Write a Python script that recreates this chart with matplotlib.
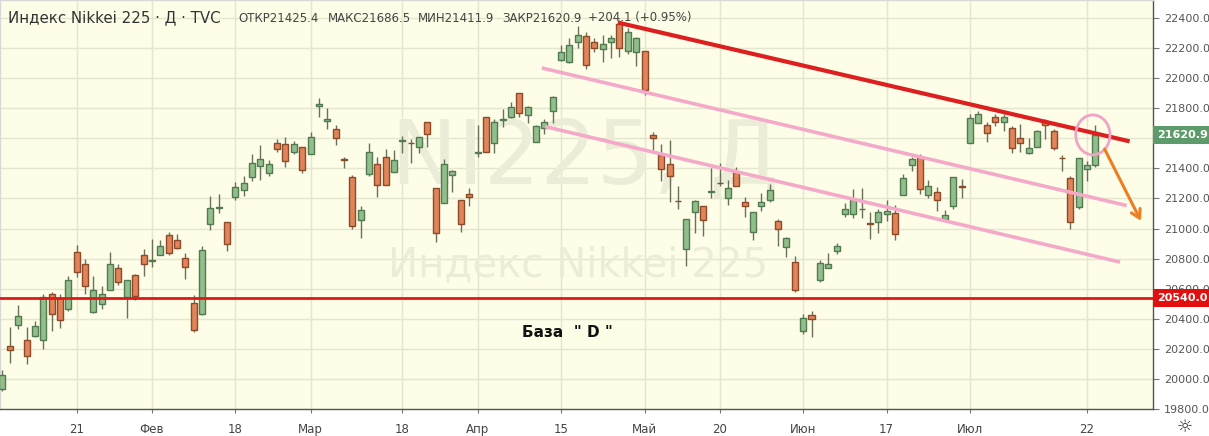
import matplotlib
matplotlib.use("Agg")
import matplotlib.pyplot as plt
import matplotlib.transforms as mtransforms
from matplotlib.patches import Ellipse
import numpy as np

# ---------------- data (daily candles, Nikkei 225) ----------------
opens = [19933, 20216, 20360, 20260, 20285, 20260, 20567, 20540, 20467, 20847,
         20767, 20447, 20500, 20593, 20740, 20545, 20693, 20827, 20785, 20827,
         20960, 20927, 20807, 20507, 20433, 21027, 21138, 21044, 21211, 21256,
         21344, 21418, 21371, 21567, 21560, 21507, 21540, 21493, 21813, 21713,
         21660, 21460, 21340, 21060, 21360, 21427, 21473, 21373, 21582, 21569,
         21544, 21711, 21267, 21173, 21353, 21189, 21227, 21502, 21744, 21567,
         21725, 21744, 21904, 21756, 21578, 21667, 21784, 22124, 22109, 22238,
         22280, 22242, 22191, 22242, 22358, 22182, 22171, 22182, 21624, 21487,
         21431, 21184, 20864, 21109, 21149, 21245, 21304, 21204, 21376, 21176,
         20980, 21147, 21187, 21049, 20880, 20776, 20320, 20424, 20658, 20738,
         20850, 21096, 21100, 21127, 21035, 21044, 21096, 21104, 21220, 21420,
         21478, 21220, 21240, 21064, 21153, 21280, 21567, 21700, 21687, 21740,
         21707, 21669, 21600, 21500, 21544, 21711, 21647, 21471, 21333, 21144,
         21393, 21425.4]
highs = [20060, 20345, 20489, 20345, 20384, 20567, 20578, 20567, 20682, 20889,
         20800, 20682, 20616, 20844, 20762, 20660, 20700, 20867, 20929, 20922,
         20978, 20967, 20840, 20556, 20882, 21216, 21233, 21044, 21307, 21349,
         21496, 21556, 21456, 21593, 21611, 21582, 21540, 21640, 21871, 21800,
         21689, 21478, 21358, 21149, 21571, 21478, 21529, 21522, 21616, 21593,
         21611, 21711, 21273, 21460, 21389, 21189, 21267, 21689, 21744, 21729,
         21793, 21840, 21904, 21816, 21690, 21727, 21882, 22220, 22264, 22347,
         22309, 22264, 22287, 22287, 22387, 22331, 22276, 22182, 21642, 21560,
         21591, 21280, 21064, 21191, 21149, 21404, 21436, 21324, 21409, 21209,
         21109, 21236, 21298, 21064, 20942, 20820, 20431, 20453, 20791, 20838,
         20905, 21167, 21260, 21267, 21111, 21133, 21189, 21156, 21362, 21478,
         21496, 21322, 21278, 21122, 21340, 21327, 21762, 21784, 21709, 21762,
         21762, 21682, 21693, 21600, 21656, 21727, 21660, 21489, 21349, 21471,
         21449, 21686.5]
lows = [19920, 20105, 20333, 20100, 20278, 20196, 20318, 20338, 20451, 20678,
        20562, 20438, 20462, 20593, 20622, 20405, 20527, 20687, 20745, 20827,
        20827, 20862, 20662, 20313, 20422, 20989, 21104, 20851, 21189, 21216,
        21318, 21322, 21349, 21511, 21411, 21496, 21371, 21493, 21744, 21662,
        21556, 21404, 20996, 20940, 21349, 21207, 21287, 21373, 21504, 21433,
        21504, 21544, 20911, 21173, 21244, 20978, 21151, 21478, 21507, 21500,
        21673, 21738, 21744, 21704, 21578, 21629, 21704, 22116, 22102, 22198,
        22064, 22171, 22109, 22131, 22138, 22164, 22082, 21887, 21520, 21316,
        21176, 21131, 20749, 20971, 20949, 21204, 21282, 21160, 21280, 21076,
        20924, 21116, 21176, 20882, 20809, 20576, 20298, 20280, 20642, 20738,
        20830, 21078, 21073, 21073, 20933, 20971, 21049, 20927, 21220, 21384,
        21233, 21200, 21118, 21060, 21127, 21200, 21567, 21700, 21573, 21682,
        21651, 21504, 21511, 21493, 21540, 21596, 21522, 21384, 21000, 21127,
        21318, 21411.9]
closes = [20027, 20193, 20418, 20151, 20353, 20545, 20433, 20393, 20660, 20711,
          20620, 20589, 20567, 20767, 20644, 20660, 20551, 20767, 20791, 20882,
          20838, 20871, 20744, 20327, 20860, 21140, 21142, 20900, 21278, 21300,
          21433, 21464, 21427, 21527, 21447, 21560, 21387, 21607, 21829, 21727,
          21600, 21456, 21018, 21122, 21507, 21287, 21287, 21456, 21586, 21566,
          21611, 21627, 20973, 21427, 21380, 21033, 21207, 21506, 21507, 21711,
          21727, 21811, 21767, 21807, 21684, 21711, 21873, 22171, 22224, 22287,
          22091, 22204, 22227, 22264, 22204, 22309, 22264, 21924, 21604, 21398,
          21347, 21182, 21064, 21182, 21058, 21249, 21300, 21269, 21280, 21147,
          21109, 21176, 21258, 20998, 20936, 20593, 20404, 20398, 20769, 20764,
          20884, 21133, 21193, 21131, 21031, 21111, 21118, 20967, 21333, 21460,
          21260, 21284, 21193, 21087, 21340, 21276, 21733, 21762, 21638, 21707,
          21744, 21533, 21567, 21533, 21647, 21687, 21533, 21467, 21044, 21467,
          21420, 21620.9]

# x-axis ticks (bar index -> label)
tick_bars = [9, 18, 28, 37, 48, 57, 67, 77, 86, 96, 106, 116, 130]
tick_labels = ["21", "Фев", "18", "Мар", "18", "Апр", "15", "Май", "20", "Июн", "17", "Июл", "22"]
price_ticks = list(range(19800, 22401, 200))

support_level = 20540.0
last_close = closes[-1]

# drawn annotations (bar index, price)
red_trend = [(73.8, 22370), (135.1, 21580)]
pink_upper = [(64.7, 22068), (134.75, 21153)]
pink_lower = [(65.1, 21678), (133.95, 20777)]
circle_center = (130.7, 21623)
arrow_from = (131.95, 21545)
arrow_to = (136.6, 21035)

# ---------------- styling ----------------
BG = "#fdfde8"
GRID = "#e4e6cd"
UP_FACE, UP_EDGE = "#92be8c", "#527a50"
DN_FACE, DN_EDGE = "#e1845a", "#8c4a2a"
WICK = "#6b705a"

W, H = 1209, 436
fig = plt.figure(figsize=(W / 100, H / 100), dpi=100, facecolor="white")
ax = fig.add_axes([0, 27 / H, 1153 / W, 409 / H])
ax.set_facecolor(BG)

x = np.arange(len(opens))
o = np.array(opens, float); c = np.array(closes, float)
hi = np.array(highs, float); lo = np.array(lows, float)
up = c >= o

ax.vlines(x, lo, hi, color=WICK, linewidth=1, zorder=3)
ax.bar(x[up], (c - o)[up], bottom=o[up], width=0.72, color=UP_FACE,
       edgecolor=UP_EDGE, linewidth=1, zorder=4)
ax.bar(x[~up], (c - o)[~up], bottom=o[~up], width=0.72, color=DN_FACE,
       edgecolor=DN_EDGE, linewidth=1, zorder=4)

ax.set_xlim(-0.19, 137.9)
ax.set_ylim(19800, 22520)

# grid / ticks
ax.set_yticks(price_ticks)
# the 21600 label is hidden behind the last-price tag in the reference
ax.set_yticklabels(["" if v == 21600 else f"{v:.1f}" for v in price_ticks])
ax.set_xticks(tick_bars)
ax.set_xticklabels(tick_labels)
ax.grid(True, color=GRID, linewidth=1, zorder=0)
ax.set_axisbelow(True)

ax.yaxis.tick_right()
ax.tick_params(axis="y", direction="out", length=4, width=0.8, color="#777",
               labelsize=8, labelcolor="#555", pad=4)
ax.tick_params(axis="x", direction="out", length=3, width=0.8, color="#777",
               labelsize=8.5, labelcolor="#444", pad=7)
for s in ["top", "left"]:
    ax.spines[s].set_color("#d8d8d8")
    ax.spines[s].set_linewidth(1)
for s in ["right", "bottom"]:
    ax.spines[s].set_color("#555555")
    ax.spines[s].set_linewidth(1)

# watermark
ax.text(0.507, 0.61, "NI225, Д", transform=ax.transAxes, ha="center", va="center",
        fontsize=64, color="#ecedd9", zorder=1)
ax.text(0.501, 0.352, "Индекс Nikkei 225", transform=ax.transAxes, ha="center",
        va="center", fontsize=29, color="#ecedd9", zorder=1)

# support line
ax.axhline(support_level, color="#e01818", linewidth=2, zorder=5)

# trend lines
ax.plot(*zip(*red_trend), color="#dd1f1f", linewidth=3, solid_capstyle="butt", zorder=6)
ax.plot(*zip(*pink_upper), color="#f4a9c9", linewidth=2.6, solid_capstyle="butt", zorder=6)
ax.plot(*zip(*pink_lower), color="#f4a9c9", linewidth=2.6, solid_capstyle="butt", zorder=6)
ax.add_patch(Ellipse(circle_center, width=4.1, height=265, fill=False,
                     edgecolor="#f0a3c4", linewidth=2, zorder=7))
ax.annotate("", xy=arrow_to, xytext=arrow_from,
            arrowprops=dict(arrowstyle="->,head_length=0.6,head_width=0.35",
                            color="#f07d22", linewidth=2.2), zorder=7)

# text label
ax.text(0.492, 0.186, 'База  " D "', transform=ax.transAxes, ha="center", va="center",
        fontsize=11, fontweight="bold", color="#111", zorder=8)

# price tags on the axis
trans = mtransforms.blended_transform_factory(ax.transAxes, ax.transData)
ax.text(1.0035, last_close, f"{last_close:.1f}", transform=trans, ha="left", va="center",
        fontsize=8, fontweight="bold", color="white", clip_on=False, zorder=10,
        bbox=dict(boxstyle="square,pad=0.35", fc="#5e9b6a", ec="none"))
ax.text(1.0035, support_level, f"{support_level:.1f}", transform=trans, ha="left",
        va="center", fontsize=8, fontweight="bold", color="white", clip_on=False,
        zorder=10, bbox=dict(boxstyle="square,pad=0.35", fc="#e30e0e", ec="none"))

# header
def fx(px):
    return px / W
def fy(py):
    return 1 - py / H
fig.text(fx(8), fy(18), "Индекс Nikkei 225 · Д · TVC", fontsize=10.8, color="#333",
         va="center", ha="left")
for px, t in [(238, "ОТКР21425.4"), (328, "МАКС21686.5"), (418, "МИН21411.9"),
              (502, "ЗАКР21620.9"), (588, "+204.1 (+0.95%)")]:
    fig.text(fx(px), fy(18), t, fontsize=8.5, color="#444", va="center", ha="left")

fig.text(fx(1185), fy(427), "☼", fontsize=13, color="#333", ha="center", va="center")

fig.savefig("out.png", dpi=100, facecolor="white")
